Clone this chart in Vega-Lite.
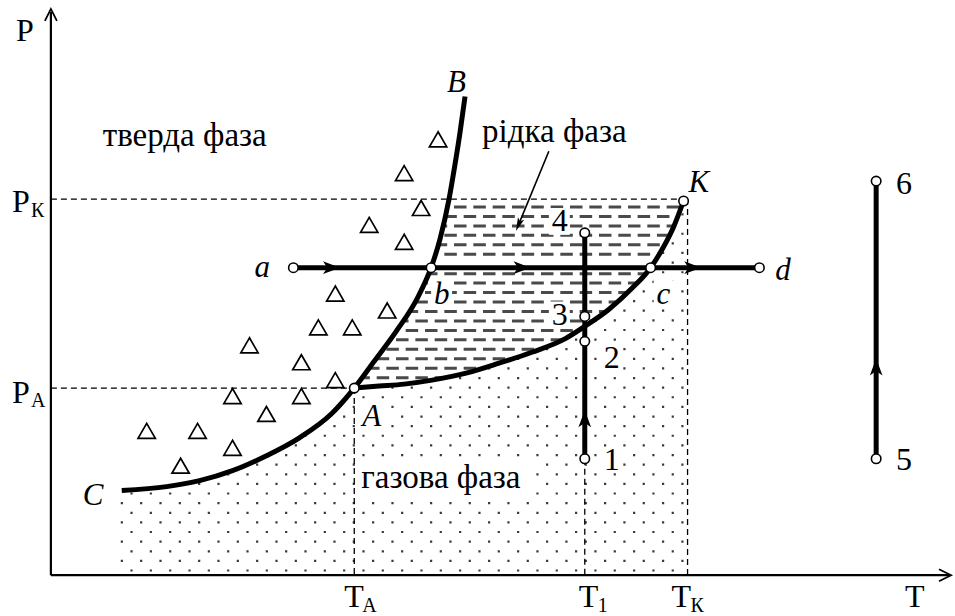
{
  "$schema": "https://vega.github.io/schema/vega-lite/v6.json",
  "width": 955,
  "height": 616,
  "padding": 0,
  "autosize": {"type": "fit", "contains": "padding"},
  "background": "white",
  "config": {"view": {"stroke": null}},
  "datasets": {
    "curves": [
      {"c":"CAB","T":71,"P":85},{"c":"CAB","T":116,"P":89},{"c":"CAB","T":149,"P":95},{"c":"CAB","T":182,"P":105},{"c":"CAB","T":216,"P":120},{"c":"CAB","T":249,"P":138},{"c":"CAB","T":282,"P":163},{"c":"CAB","T":304,"P":188},{"c":"CAB","T":324,"P":215},{"c":"CAB","T":346,"P":245},{"c":"CAB","T":367,"P":278},{"c":"CAB","T":381,"P":309},{"c":"CAB","T":390,"P":338},{"c":"CAB","T":399,"P":378},{"c":"CAB","T":405,"P":413},{"c":"CAB","T":410,"P":445},{"c":"CAB","T":415,"P":481},
      {"c":"AK","T":304,"P":188},{"c":"AK","T":329,"P":190},{"c":"AK","T":354,"P":192},{"c":"AK","T":382,"P":196},{"c":"AK","T":416,"P":203},{"c":"AK","T":449,"P":213},{"c":"AK","T":482,"P":224},{"c":"AK","T":516,"P":238},{"c":"AK","T":535,"P":250},{"c":"AK","T":559,"P":267},{"c":"AK","T":582,"P":288},{"c":"AK","T":601,"P":309},{"c":"AK","T":614,"P":330},{"c":"AK","T":624,"P":350},{"c":"AK","T":634,"P":376}
    ],
    "gasDots": [
      {"T":79.7,"T2":638,"P":4.7},{"T":70,"T2":638,"P":14.4},{"T":79.7,"T2":638,"P":24.0},{"T":70,"T2":638,"P":33.7},{"T":79.7,"T2":638,"P":43.4},{"T":70,"T2":638,"P":53.1},{"T":79.7,"T2":638,"P":62.7},{"T":70,"T2":638,"P":72.4},{"T":79.7,"T2":638,"P":82.1},{"T":70,"T2":638,"P":91.7},{"T":79.7,"T2":638,"P":101.4},{"T":70,"T2":638,"P":111.1},{"T":79.7,"T2":638,"P":120.7},{"T":70,"T2":638,"P":130.4},{"T":79.7,"T2":638,"P":140.1},{"T":70,"T2":638,"P":149.7},{"T":79.7,"T2":638,"P":159.4},{"T":70,"T2":638,"P":169.1},{"T":79.7,"T2":638,"P":178.8},{"T":70,"T2":638,"P":188.4},{"T":79.7,"T2":638,"P":198.1},{"T":70,"T2":638,"P":207.8},{"T":79.7,"T2":638,"P":217.4},{"T":70,"T2":638,"P":227.1},{"T":79.7,"T2":638,"P":236.8},{"T":70,"T2":638,"P":246.4},{"T":79.7,"T2":638,"P":256.1},{"T":70,"T2":638,"P":265.8},{"T":79.7,"T2":638,"P":275.4},{"T":70,"T2":638,"P":285.1},{"T":79.7,"T2":638,"P":294.8},{"T":70,"T2":638,"P":304.4},{"T":79.7,"T2":638,"P":314.1},{"T":70,"T2":638,"P":323.8},{"T":79.7,"T2":638,"P":333.5},{"T":70,"T2":638,"P":343.1},{"T":79.7,"T2":638,"P":352.8},{"T":70,"T2":638,"P":362.5},{"T":79.7,"T2":638,"P":372.1}
    ],
    "liquidDashes": [
      {"T":249,"T2":631.7,"P":370},{"T":258.67,"T2":628,"P":360.5},{"T":249,"T2":624.4,"P":351},{"T":258.67,"T2":619.8,"P":341.5},{"T":249,"T2":615,"P":332},{"T":258.67,"T2":609.4,"P":322.5},{"T":258.67,"T2":595.6,"P":303},{"T":249,"T2":587,"P":293.5},{"T":258.67,"T2":578,"P":284},{"T":249,"T2":568.5,"P":274.5},{"T":258.67,"T2":559,"P":265},{"T":249,"T2":543.8,"P":255.5},{"T":258.67,"T2":528.7,"P":246},{"T":249,"T2":512.4,"P":236.5},{"T":258.67,"T2":489.3,"P":227},{"T":249,"T2":462.5,"P":217.5},{"T":258.67,"T2":432.5,"P":208},{"T":249,"T2":394.1,"P":198.5}
    ],
    "whiteBoxes": [
      {"T":308,"T2":484,"P":77,"P2":116},{"T":381,"T2":402,"P":268,"P2":296},{"T":604,"T2":625,"P":268,"P2":296},{"T":499,"T2":520,"P":248,"P2":275},{"T":499,"T2":520,"P":342,"P2":369},{"T":551,"T2":571,"P":205,"P2":231},{"T":552,"T2":569,"P":103,"P2":126},{"T":310,"T2":334,"P":146,"P2":174},{"T":60,"T2":72,"P":86,"P2":380}
    ],
    "refLines": [
      {"T":0,"T2":638,"P":378,"P2":378},{"T":0,"T2":304,"P":188,"P2":188},{"T":304,"T2":304,"P":188,"P2":0},{"T":535,"T2":535,"P":117,"P2":0},{"T":638,"T2":638,"P":378,"P2":0}
    ],
    "axes": [
      {"T":0,"T2":0,"P":0,"P2":566},{"T":0,"T2":900,"P":0,"P2":0}
    ],
    "processes": [
      {"T":243,"T2":710,"P":309,"P2":309},{"T":535,"T2":535,"P":117,"P2":344},{"T":827,"T2":827,"P":117,"P2":396}
    ],
    "pointer": [{"T":499,"T2":469,"P":426,"P2":353}],
    "arrowsRight": [{"T":280,"P":309},{"T":471,"P":309},{"T":642,"P":309}],
    "arrowsUp": [{"T":535,"P":156},{"T":827,"P":208}],
    "arrowPointer": [{"T":468.9,"P":352.9}],
    "axisUp": [{"T":0,"P":559}],
    "axisRight": [{"T":892,"P":0}],
    "triangles": [
      {"T":388,"P":438},{"T":354,"P":404},{"T":371,"P":369},{"T":319,"P":352},{"T":354,"P":335},{"T":285,"P":283},{"T":337,"P":266},{"T":268,"P":249},{"T":302,"P":249},{"T":199,"P":231},{"T":251,"P":214},{"T":285,"P":196},{"T":182,"P":180},{"T":251,"P":180},{"T":216,"P":162},{"T":96,"P":145},{"T":147,"P":145},{"T":182,"P":128},{"T":130,"P":110}
    ],
    "circles": [
      {"T":243,"P":309},{"T":381,"P":309},{"T":601,"P":309},{"T":710,"P":309},{"T":304,"P":188},{"T":634,"P":376},{"T":535,"P":344},{"T":535,"P":260},{"T":535,"P":235},{"T":535,"P":117},{"T":827,"P":117},{"T":827,"P":396}
    ],
    "mainLabels": [
      {"label":"P","T":-35,"P":537},{"label":"P","T":-39,"P":365},{"label":"P","T":-39,"P":173},{"label":"T","T":294,"P":-32},{"label":"T","T":529,"P":-32},{"label":"T","T":622,"P":-32},{"label":"T","T":856,"P":-32},
      {"label":"4","T":502,"P":346},{"label":"3","T":502,"P":251},{"label":"2","T":554,"P":208},{"label":"1","T":554,"P":106},{"label":"5","T":847,"P":106},{"label":"6","T":847,"P":383}
    ],
    "subLabels": [
      {"label":"К","T":-20,"P":360},{"label":"A","T":-20,"P":169},{"label":"A","T":312,"P":-37},{"label":"1","T":548,"P":-37},{"label":"К","T":641,"P":-37}
    ],
    "phaseLabels": [
      {"label":"тверда фаза","T":52,"P":431},{"label":"рідка фаза","T":432,"P":435},{"label":"газова фаза","T":311,"P":88}
    ],
    "italicLabels": [
      {"label":"B","T":397,"P":486},{"label":"К","T":639,"P":385},{"label":"a","T":204,"P":300},{"label":"b","T":384,"P":273},{"label":"c","T":607,"P":273},{"label":"d","T":726,"P":297},{"label":"A","T":312,"P":150},{"label":"C","T":32,"P":71}
    ]
  },
  "encoding": {
    "x": {"field": "T", "type": "quantitative", "scale": {"domain": [-51, 904], "nice": false, "zero": false}, "axis": null},
    "y": {"field": "P", "type": "quantitative", "scale": {"domain": [-38, 578], "nice": false, "zero": false}, "axis": null}
  },
  "layer": [
    {"data": {"name": "gasDots"}, "mark": {"type": "rule", "color": "#3a3a3a", "strokeWidth": 2.2, "strokeDash": [2.2, 17.13]}, "encoding": {"x2": {"field": "T2"}}},
    {"data": {"name": "curves"}, "transform": [{"filter": "datum.c == 'AK'"}], "mark": {"type": "area", "color": "white", "opacity": 1, "interpolate": "monotone"}, "encoding": {"y2": {"datum": 380}}},
    {"data": {"name": "liquidDashes"}, "mark": {"type": "rule", "color": "#4a4a4a", "strokeWidth": 3, "strokeDash": [12.5, 6.83]}, "encoding": {"x2": {"field": "T2"}}},
    {"data": {"name": "curves"}, "transform": [{"filter": "datum.c == 'CAB' && datum.T <= 400"}], "mark": {"type": "area", "color": "white", "opacity": 1, "interpolate": "monotone"}, "encoding": {"y2": {"datum": 380}}},
    {"data": {"name": "whiteBoxes"}, "mark": {"type": "rect", "color": "white", "opacity": 1}, "encoding": {"x2": {"field": "T2"}, "y2": {"field": "P2"}}},
    {"data": {"name": "refLines"}, "mark": {"type": "rule", "color": "black", "strokeWidth": 1.3, "strokeDash": [6, 4]}, "encoding": {"x2": {"field": "T2"}, "y2": {"field": "P2"}}},
    {"data": {"name": "axes"}, "mark": {"type": "rule", "color": "black", "strokeWidth": 2.2}, "encoding": {"x2": {"field": "T2"}, "y2": {"field": "P2"}}},
    {"data": {"name": "curves"}, "mark": {"type": "line", "color": "black", "strokeWidth": 5, "interpolate": "monotone"}, "encoding": {"detail": {"field": "c"}}},
    {"data": {"name": "processes"}, "mark": {"type": "rule", "color": "black", "strokeWidth": 5}, "encoding": {"x2": {"field": "T2"}, "y2": {"field": "P2"}}},
    {"data": {"name": "pointer"}, "mark": {"type": "rule", "color": "black", "strokeWidth": 1.6}, "encoding": {"x2": {"field": "T2"}, "y2": {"field": "P2"}}},
    {"data": {"name": "arrowsRight"}, "mark": {"type": "point", "shape": "M0,-1L0.65,0.75L0,0.3L-0.65,0.75Z", "size": 380, "angle": 90, "filled": true, "color": "black", "opacity": 1}},
    {"data": {"name": "arrowsUp"}, "mark": {"type": "point", "shape": "M0,-1L0.65,0.75L0,0.3L-0.65,0.75Z", "size": 380, "angle": 0, "filled": true, "color": "black", "opacity": 1}},
    {"data": {"name": "arrowPointer"}, "mark": {"type": "point", "shape": "M0,-1L0.45,0.8L0,0.4L-0.45,0.8Z", "size": 225, "angle": 202.4, "filled": true, "color": "black", "opacity": 1}},
    {"data": {"name": "axisUp"}, "mark": {"type": "point", "shape": "M-0.6,0.2L0,-1L0.6,0.2", "size": 400, "angle": 0, "filled": false, "color": "black", "strokeWidth": 1.8, "opacity": 1}},
    {"data": {"name": "axisRight"}, "mark": {"type": "point", "shape": "M-0.6,0.2L0,-1L0.6,0.2", "size": 400, "angle": 90, "filled": false, "color": "black", "strokeWidth": 1.8, "opacity": 1}},
    {"data": {"name": "triangles"}, "mark": {"type": "point", "shape": "triangle-up", "size": 300, "filled": false, "color": "black", "strokeWidth": 1.7, "opacity": 1}},
    {"data": {"name": "circles"}, "mark": {"type": "point", "shape": "circle", "size": 90, "fill": "white", "stroke": "black", "strokeWidth": 1.6, "opacity": 1}},
    {"data": {"name": "mainLabels"}, "mark": {"type": "text", "align": "left", "baseline": "alphabetic", "font": "Liberation Serif", "fontSize": 32, "color": "black"}, "encoding": {"text": {"field": "label"}}},
    {"data": {"name": "subLabels"}, "mark": {"type": "text", "align": "left", "baseline": "alphabetic", "font": "Liberation Serif", "fontSize": 20, "color": "black"}, "encoding": {"text": {"field": "label"}}},
    {"data": {"name": "phaseLabels"}, "mark": {"type": "text", "align": "left", "baseline": "alphabetic", "font": "Liberation Serif", "fontSize": 33, "color": "black"}, "encoding": {"text": {"field": "label"}}},
    {"data": {"name": "italicLabels"}, "mark": {"type": "text", "align": "left", "baseline": "alphabetic", "font": "Liberation Serif", "fontSize": 31, "fontStyle": "italic", "color": "black"}, "encoding": {"text": {"field": "label"}}}
  ]
}
